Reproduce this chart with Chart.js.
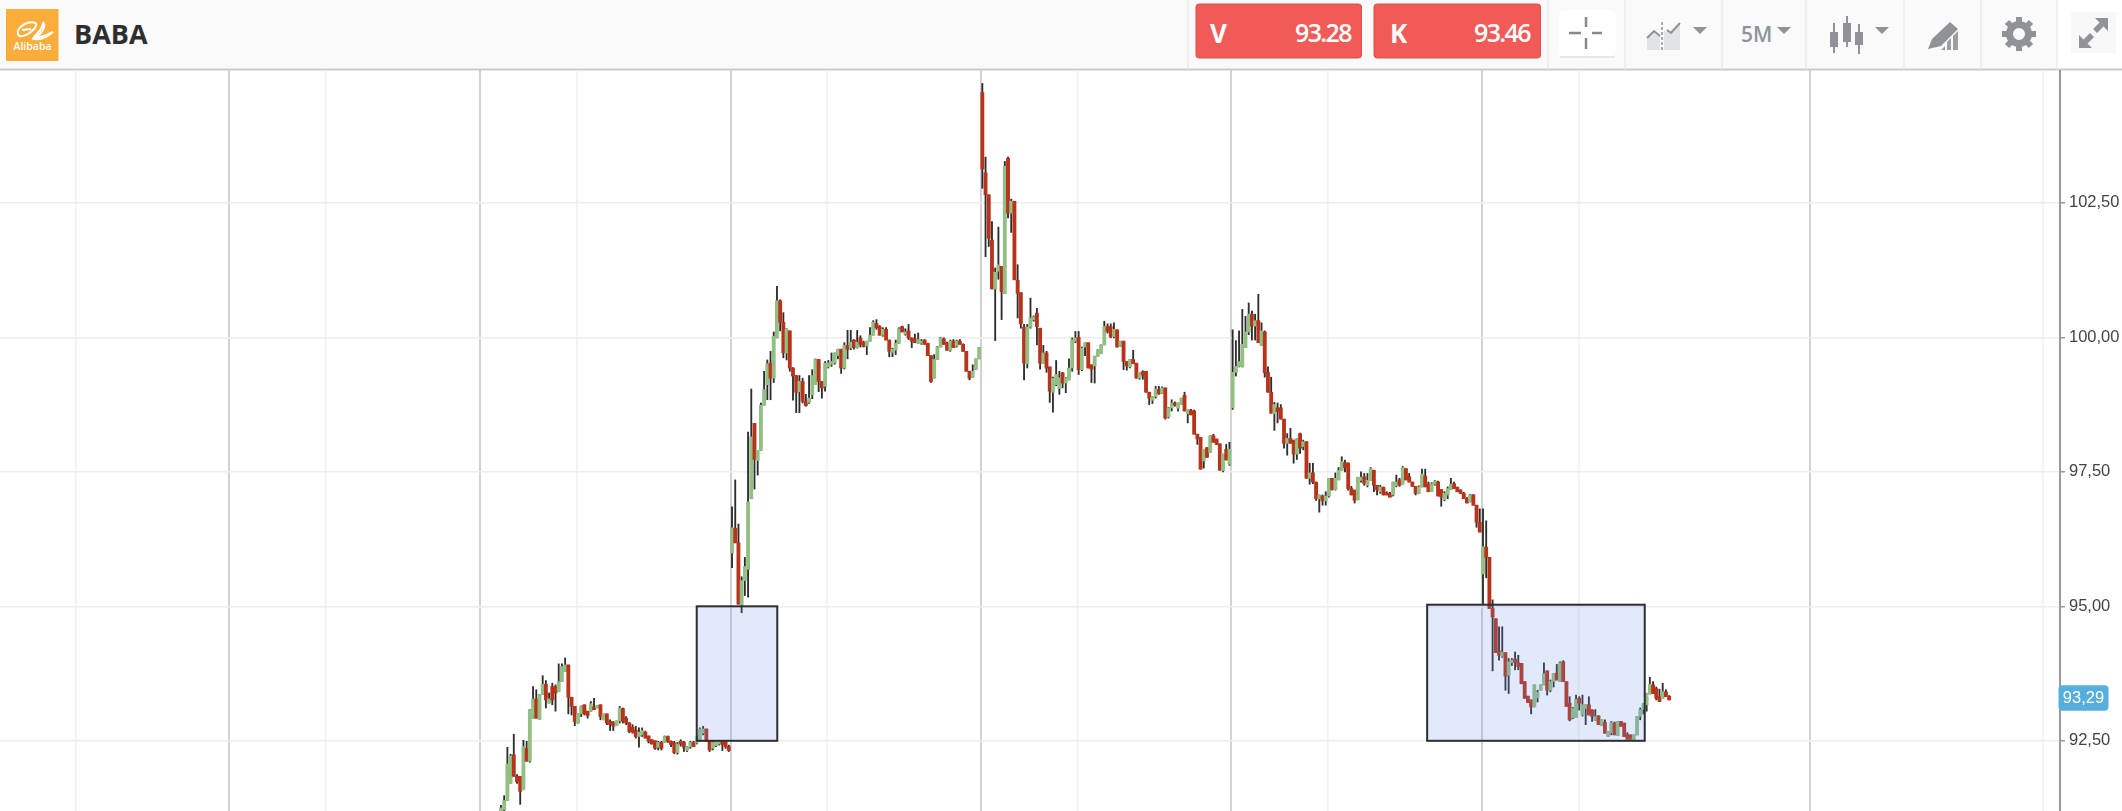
<!DOCTYPE html>
<html lang="en">
<head>
<meta charset="utf-8">
<title>BABA</title>
<script src="https://cdn.jsdelivr.net/npm/chart.js@4"></script>
<style>
    html, body { margin: 0; padding: 0; background: #fff; overflow: hidden; }
    #topbar { position: absolute; left: 0; top: 0; display: block; }
    #chartBaba { position: absolute; left: 0; top: 70px; display: block; }
    #topbar text { font-family: "Open Sans", sans-serif; }
</style>
</head>
<body>
<svg id="topbar" width="2122" height="71" viewBox="0 0 2122 71">
    <rect x="0" y="0" width="2057" height="69" fill="#fafafa"/>
    <rect x="0" y="68.5" width="2122" height="2" fill="#cbcbcb"/>

    <!-- logo -->
    <rect x="6" y="9" width="52.5" height="52" fill="#fbad3b"/>
    <path d="M19 36 C14 29 26 21 34 22.5 C38 23.5 36 27 33 30 C30 33 24 37 19 36 M22 30 L31 29 M43 22 C47 27 40 35 36 37 C42 38 48 34 53 32 C47 37 39 41 33 38.5 C37 33 44 28 43 22" fill="none" stroke="#fff" stroke-width="2"/>
    <text x="32.5" y="50" text-anchor="middle" font-size="10.5" font-weight="600" fill="#fff">Alibaba</text>
    <text x="74" y="44" font-size="27" font-weight="700" fill="#2e2e2e">BABA</text>

    <!-- dividers -->
    <g stroke="#e4e4e4" stroke-width="1">
        <line x1="1188" y1="0" x2="1188" y2="71"/><line x1="1548" y1="0" x2="1548" y2="71"/>
        <line x1="1625" y1="0" x2="1625" y2="71"/><line x1="1722" y1="0" x2="1722" y2="71"/>
        <line x1="1806" y1="0" x2="1806" y2="71"/><line x1="1904" y1="0" x2="1904" y2="71"/>
        <line x1="1981" y1="0" x2="1981" y2="71"/><line x1="2057" y1="0" x2="2057" y2="71"/>
    </g>

    <!-- V / K -->
    <rect x="1196" y="4" width="165.5" height="54" rx="3" fill="#f05b57" stroke="#dc4f4b"/>
    <rect x="1374" y="4" width="166.5" height="54" rx="3" fill="#f05b57" stroke="#dc4f4b"/>
    <text x="1210" y="43" font-size="26" font-weight="700" fill="#fff">V</text>
    <text x="1351" y="42" text-anchor="end" font-size="25" font-weight="600" letter-spacing="-1.6" fill="#fff">93.28</text>
    <text x="1390" y="43" font-size="26" font-weight="700" fill="#fff">K</text>
    <text x="1530" y="42" text-anchor="end" font-size="25" font-weight="600" letter-spacing="-1.6" fill="#fff">93.46</text>

    <!-- crosshair -->
    <rect x="1559" y="10" width="57" height="47" rx="6" fill="#fff"/>
    <path d="M1560 57 H1615" stroke="#e2e2e2" stroke-width="1.5"/>
    <g stroke="#85898e" stroke-width="2.5">
        <path d="M1569 33 H1581 M1592 33 H1602 M1586 17 V27 M1586 38 V49" fill="none"/>
    </g>

    <!-- chart type icon -->
    <path d="M1647 38 L1654 31 L1660 35 V50 H1647 Z M1664 31 L1670 31 L1680 23 V50 H1664 Z" fill="#e2e3e4"/>
    <path d="M1647 38 L1654 31 L1660 36 M1667 30 L1671 33 L1680 23" fill="none" stroke="#8f9398" stroke-width="2"/>
    <path d="M1662 22 V51" stroke="#8f9398" stroke-width="1.5" stroke-dasharray="3 2"/>
    <path d="M1693 27 H1707 L1700 34 Z M1777 27 H1791 L1784 34 Z M1875 27 H1889 L1882 34 Z" fill="#8f9398"/>

    <text x="1741" y="42" font-size="21" font-weight="600" fill="#8f9398">5M</text>

    <!-- candle icon -->
    <g fill="#8f9398">
        <rect x="1833" y="23" width="2" height="30"/><rect x="1830" y="32" width="8" height="15"/>
        <rect x="1846" y="16" width="2" height="31"/><rect x="1843" y="23" width="8" height="19"/>
        <rect x="1858" y="24" width="2" height="30"/><rect x="1855" y="32" width="8" height="13"/>
    </g>

    <!-- draw icon -->
    <path d="M1932 39 L1950 22 L1958 29 L1941 46 L1928 49 Z" fill="#8f9398"/>
    <path d="M1941 50 L1945 46 V50 Z M1947 50 V42 L1951 38 V50 Z M1953 50 V36 L1958 31 V50 Z" fill="#9b9ea3"/>

    <!-- gear -->
    <g transform="translate(2019 34)">
        <g stroke="#8f9398" stroke-width="6">
            <path d="M0 -17 V17 M-17 0 H17 M-12 -12 L12 12 M-12 12 L12 -12"/>
        </g>
        <circle r="9.5" fill="#fafafa" stroke="#8f9398" stroke-width="7"/>
    </g>

    <!-- expand -->
    <rect x="2071" y="12" width="45" height="41" fill="#f8f8f8"/>
    <path d="M2108 18 V31 L2103.5 26.5 L2097 33 L2093 29 L2099.5 22.5 L2095 18 Z M2079 48 V35 L2083.5 39.5 L2090 33 L2094 37 L2087.5 43.5 L2092 48 Z" fill="#8f9398"/>
</svg>
<canvas id="chartBaba" width="2122" height="741"></canvas>

<script>
// Fiyatlar (5 dk mumlar, 5 seans)
const opens = [
    91.20,91.22,91.39,91.71,92.24,91.84,91.84,91.59,92.36,92.12,
    92.92,93.28,92.90,93.36,93.55,93.20,93.51,93.51,93.42,93.60,
    93.79,93.91,93.31,93.14,92.83,93.00,93.17,93.05,93.05,93.13,
    93.11,93.17,92.89,93.00,92.86,92.84,92.78,92.87,93.10,92.92,
    92.83,92.75,92.70,92.58,92.61,92.66,92.59,92.52,92.50,92.38,
    92.47,92.47,92.58,92.49,92.46,92.28,92.49,92.47,92.32,92.39,
    92.47,92.46,92.49,92.64,92.72,92.49,92.36,92.41,92.44,92.49,
    92.49,92.39,
    95.99,96.45,96.18,95.03,95.48,95.69,97.00,98.40,97.71,97.90,
    98.74,99.12,99.52,99.24,99.99,100.68,100.28,99.71,100.12,99.43,
    99.29,98.99,99.18,98.81,98.79,98.93,99.12,99.59,99.18,99.09,
    99.45,99.50,99.52,99.66,99.78,99.43,99.85,99.80,99.95,99.81,
    99.99,99.91,99.84,99.93,100.04,100.26,100.20,100.04,100.15,99.95,
    99.72,99.76,99.89,100.20,100.06,100.12,99.99,99.97,99.89,99.89,
    99.95,99.89,99.66,99.24,99.59,99.82,99.97,99.89,99.76,99.93,
    99.84,99.93,99.87,99.74,99.37,99.26,99.40,99.60,
    104.55,103.06,102.65,101.81,100.90,101.23,101.32,100.81,103.33,102.31,
    102.53,101.06,100.83,100.19,99.51,100.19,100.33,100.45,100.17,99.52,
    99.71,99.45,98.98,99.12,99.05,99.34,99.15,99.21,99.43,99.93,
    100.00,99.40,99.82,99.90,99.49,99.47,99.65,99.70,99.86,100.20,
    100.20,100.01,100.14,99.83,99.93,99.55,99.45,99.59,99.52,99.24,
    99.36,99.37,98.98,98.83,98.90,99.03,98.96,99.06,98.52,98.69,
    98.78,98.68,98.75,98.92,98.58,98.64,98.63,98.20,98.14,97.70,
    97.95,97.86,98.17,98.11,98.02,97.52,97.92,97.64,
    98.69,99.35,99.46,99.45,99.81,100.10,100.43,100.21,100.31,99.85,
    100.10,99.35,98.98,98.58,98.69,98.69,98.48,98.03,98.12,98.09,
    97.83,98.21,97.97,98.06,97.38,97.48,97.31,97.00,97.05,96.96,
    97.05,97.38,97.17,97.35,97.53,97.67,97.66,97.19,97.16,96.98,
    97.34,97.41,97.25,97.34,97.53,97.25,97.13,97.21,97.11,97.10,
    97.07,97.24,97.35,97.27,97.56,97.41,97.31,97.23,97.10,97.22,
    97.42,97.28,97.13,97.27,97.31,97.17,96.98,97.07,97.17,97.28,
    97.21,97.16,97.10,97.00,96.94,97.07,96.88,96.56,
    95.60,96.10,95.91,94.96,94.77,94.17,94.07,94.14,93.72,93.95,
    94.02,93.95,93.94,93.60,93.33,93.26,93.13,93.30,93.44,93.54,
    93.80,93.44,93.60,93.76,93.60,93.97,93.60,93.20,92.93,92.93,
    93.29,92.98,93.10,93.17,93.07,92.88,92.96,92.78,92.84,92.58,
    92.65,92.83,92.60,92.86,92.83,92.61,92.61,92.53,92.61,92.95,
    93.08,93.17,93.37,93.54,93.47,93.32,93.29,93.41,93.33
];

const highs = [
    91.30,91.48,92.38,92.25,92.62,91.87,91.84,92.51,92.49,93.08,
    93.51,93.45,93.36,93.71,93.62,93.39,93.57,93.54,93.93,93.93,
    94.04,93.91,93.31,93.14,93.00,93.15,93.17,93.05,93.23,93.29,
    93.16,93.17,93.00,93.00,92.89,92.86,92.87,93.14,93.11,92.95,
    92.84,92.80,92.77,92.74,92.74,92.68,92.59,92.52,92.50,92.49,
    92.49,92.59,92.59,92.50,92.49,92.47,92.52,92.49,92.39,92.49,
    92.49,92.59,92.74,92.77,92.72,92.49,92.49,92.50,92.51,92.49,
    92.49,92.42,
    96.85,97.35,96.53,95.55,95.91,98.24,99.04,98.40,97.90,98.78,
    99.37,99.58,99.74,100.10,100.95,100.70,100.46,100.16,100.12,99.44,
    99.29,99.29,99.24,98.94,99.29,99.40,99.60,99.59,99.18,99.55,
    99.57,99.71,99.71,99.78,99.78,99.90,100.13,100.13,99.96,100.13,
    100.03,99.93,99.93,100.18,100.31,100.33,100.22,100.18,100.18,99.95,
    99.80,99.95,100.18,100.21,100.16,100.24,99.99,100.06,100.08,99.96,
    99.96,99.89,99.66,99.68,99.83,100.00,99.99,99.91,99.95,99.96,
    99.95,99.96,99.88,99.74,99.37,99.49,99.60,99.81,
    104.72,103.35,102.65,102.15,101.29,102.05,101.32,103.27,103.35,102.57,
    102.53,101.35,100.83,100.24,100.24,100.73,100.40,100.54,100.17,99.85,
    99.74,99.45,99.26,99.57,99.37,99.35,99.25,99.60,99.99,100.11,
    100.11,99.82,99.90,99.90,99.49,99.65,99.77,99.86,100.30,100.25,
    100.25,100.27,100.14,99.93,99.93,99.55,99.59,99.76,99.52,99.35,
    99.38,99.37,98.98,98.90,99.09,99.09,99.08,99.06,98.70,98.84,
    98.80,98.78,98.87,98.98,98.66,98.66,98.65,98.20,98.14,97.92,
    97.95,98.17,98.20,98.11,98.02,97.83,98.01,98.05,
    100.14,99.94,100.12,100.52,100.39,100.64,100.49,100.43,100.80,100.27,
    100.12,99.45,99.26,98.79,98.78,98.75,98.48,98.21,98.31,98.09,
    98.12,98.22,98.09,98.06,97.66,97.66,97.31,97.07,97.07,97.13,
    97.38,97.38,97.48,97.58,97.78,97.72,97.67,97.23,97.16,97.40,
    97.50,97.47,97.47,97.58,97.53,97.25,97.25,97.22,97.13,97.12,
    97.31,97.44,97.38,97.60,97.56,97.47,97.31,97.23,97.24,97.55,
    97.55,97.31,97.30,97.34,97.33,97.17,97.13,97.22,97.38,97.31,
    97.22,97.17,97.12,97.02,97.08,97.08,96.88,96.81,
    96.81,96.59,95.91,95.12,94.77,94.62,94.62,94.14,94.03,94.03,
    94.15,94.09,93.94,93.60,93.33,93.26,93.54,93.44,93.54,93.95,
    93.80,93.63,93.75,93.92,93.97,93.99,93.60,93.32,93.12,93.35,
    93.32,93.35,93.17,93.32,93.08,93.08,92.97,92.89,92.89,92.67,
    92.86,92.85,92.86,92.86,92.83,92.65,92.61,92.61,92.95,93.11,
    93.19,93.38,93.68,93.60,93.50,93.46,93.57,93.45,93.34
];

const lows = [
    91.10,91.19,91.39,91.71,91.84,91.71,91.32,91.59,92.12,92.10,
    92.92,92.92,92.90,93.36,93.11,93.20,93.17,93.05,93.42,93.60,
    93.79,93.00,92.98,92.78,92.83,92.95,92.98,92.92,93.05,93.08,
    93.11,92.89,92.89,92.80,92.69,92.69,92.78,92.83,92.83,92.80,
    92.65,92.64,92.55,92.38,92.58,92.55,92.46,92.44,92.34,92.33,
    92.33,92.47,92.47,92.39,92.26,92.25,92.40,92.30,92.30,92.36,
    92.39,92.44,92.49,92.61,92.49,92.30,92.33,92.39,92.42,92.32,
    92.36,92.30,
    95.72,96.18,95.04,94.88,95.20,95.17,97.00,97.18,97.44,97.90,
    98.74,98.84,98.84,99.16,99.99,100.12,99.62,99.58,99.37,98.83,
    98.60,98.60,98.78,98.72,98.77,98.86,99.12,98.99,98.87,99.00,
    99.43,99.46,99.50,99.60,99.33,99.41,99.60,99.77,99.78,99.80,
    99.82,99.82,99.68,99.93,100.04,100.15,100.04,100.02,99.95,99.64,
    99.64,99.68,99.89,100.10,100.04,99.96,99.81,99.90,99.89,99.87,
    99.87,99.66,99.16,99.24,99.59,99.82,99.87,99.76,99.74,99.81,
    99.82,99.87,99.74,99.37,99.21,99.26,99.40,99.60,
    102.77,101.50,101.69,100.90,99.94,101.08,100.33,100.81,102.22,101.95,
    101.07,100.36,100.17,99.21,99.43,100.17,100.30,99.86,99.41,99.52,
    99.35,98.79,98.61,99.10,98.94,99.06,98.97,99.21,99.37,99.90,
    99.31,99.38,99.66,99.43,99.16,99.15,99.65,99.70,99.86,100.08,
    99.99,99.99,99.82,99.83,99.40,99.39,99.43,99.51,99.24,99.22,
    99.22,98.98,98.75,98.77,98.87,98.94,98.96,98.48,98.50,98.63,
    98.72,98.63,98.75,98.63,98.41,98.56,98.20,98.01,97.55,97.57,
    97.77,97.86,98.05,98.01,97.53,97.50,97.72,97.62,
    98.66,99.28,99.45,99.45,99.81,100.05,99.95,99.95,99.90,99.85,
    99.26,98.98,98.59,98.27,98.41,98.48,97.94,97.81,98.03,97.66,
    97.73,97.84,97.91,97.38,97.27,97.28,96.97,96.75,96.88,96.88,
    97.03,97.16,97.16,97.35,97.53,97.50,97.16,97.07,96.92,96.98,
    97.31,97.25,97.22,97.34,97.13,97.07,97.10,97.07,97.07,97.03,
    97.05,97.22,97.23,97.27,97.35,97.31,97.23,97.07,97.10,97.22,
    97.22,97.13,97.13,97.25,97.05,96.86,96.96,97.00,97.17,97.19,
    97.13,97.10,97.00,96.92,96.94,96.88,96.47,96.38,
    95.04,95.53,94.96,93.80,94.14,94.00,94.05,93.44,93.38,93.90,
    93.82,93.82,93.56,93.29,93.21,93.00,93.13,93.22,93.44,93.54,
    93.35,93.41,93.50,93.63,93.60,93.60,93.14,92.87,92.91,92.93,
    93.07,92.96,92.80,92.98,92.86,92.88,92.80,92.78,92.64,92.58,
    92.61,92.61,92.60,92.77,92.58,92.53,92.53,92.53,92.61,92.89,
    93.00,93.05,93.37,93.38,93.26,93.23,93.29,93.32,93.26
];

const closes = [
    91.25,91.39,92.07,92.22,91.84,91.74,91.56,92.39,92.12,93.08,
    93.28,92.92,93.36,93.55,93.26,93.28,93.26,93.39,93.60,93.88,
    93.91,93.31,93.14,92.86,93.00,93.14,93.00,92.97,93.19,93.08,
    93.16,92.95,93.00,92.83,92.80,92.77,92.87,93.11,92.86,92.83,
    92.67,92.66,92.58,92.66,92.69,92.55,92.49,92.44,92.36,92.47,
    92.36,92.58,92.49,92.43,92.28,92.44,92.44,92.38,92.38,92.47,
    92.39,92.49,92.72,92.72,92.49,92.33,92.47,92.49,92.49,92.43,
    92.39,92.32,
    96.46,96.18,95.04,95.48,95.74,96.94,98.15,97.73,97.90,98.74,
    99.03,99.51,99.24,100.02,100.68,100.28,99.71,100.15,99.43,99.28,
    98.98,99.18,98.81,98.73,98.87,99.29,99.59,99.18,99.06,99.52,
    99.52,99.55,99.71,99.78,99.43,99.85,99.78,99.91,99.81,99.91,
    99.87,99.83,99.93,100.04,100.28,100.18,100.04,100.15,99.95,99.74,
    99.78,99.89,100.16,100.10,100.10,99.99,99.93,99.90,99.96,99.93,
    99.87,99.66,99.18,99.59,99.82,99.99,99.87,99.76,99.93,99.81,
    99.93,99.87,99.74,99.37,99.24,99.37,99.60,99.81,
    103.13,102.65,101.84,100.90,101.21,101.35,100.85,103.18,102.31,102.53,
    101.07,100.82,100.25,99.52,100.19,100.36,100.38,100.20,99.52,99.71,
    99.43,99.00,99.24,99.31,99.25,99.15,99.24,99.43,99.96,99.99,
    99.40,99.80,99.90,99.43,99.41,99.65,99.77,99.86,100.20,100.11,
    100.01,100.15,99.82,99.93,99.55,99.47,99.59,99.51,99.24,99.35,
    99.30,98.98,98.87,98.90,99.04,98.95,99.06,98.50,98.69,98.78,
    98.74,98.78,98.87,98.63,98.66,98.56,98.20,98.11,97.55,97.92,
    97.77,98.17,98.05,98.01,97.53,97.83,97.72,97.92,
    99.35,99.46,99.55,99.87,100.10,100.43,100.21,100.31,99.90,100.12,
    99.34,98.98,98.59,98.75,98.62,98.48,98.03,98.12,98.03,97.83,
    98.12,97.94,98.06,97.38,97.48,97.31,97.00,97.07,96.96,97.05,
    97.38,97.17,97.38,97.53,97.69,97.58,97.19,97.07,96.97,97.40,
    97.40,97.28,97.34,97.56,97.25,97.16,97.22,97.07,97.07,97.03,
    97.31,97.31,97.25,97.58,97.35,97.31,97.23,97.10,97.22,97.46,
    97.22,97.13,97.28,97.33,97.05,97.03,97.10,97.19,97.27,97.19,
    97.13,97.10,97.00,96.92,97.07,96.88,96.56,96.38,
    96.11,95.91,94.96,94.80,94.14,94.09,94.15,93.70,93.97,94.00,
    93.95,93.88,93.56,93.29,93.21,93.13,93.54,93.40,93.54,93.75,
    93.44,93.60,93.75,93.63,93.95,93.60,93.14,92.89,93.10,93.27,
    93.20,93.17,93.17,92.98,92.95,92.95,92.80,92.89,92.64,92.67,
    92.84,92.61,92.86,92.77,92.58,92.53,92.53,92.61,92.95,93.08,
    93.19,93.38,93.55,93.38,93.29,93.23,93.41,93.32,93.26
];

// Eksen degerleri: x mum numarasi, y fiyat
const priceTicks = [92.5, 95, 97.5, 100, 102.5];
const majorLines = [-84.8, -6.5, 71.7, 149.6, 227.5, 305.7, 407.9];
const minorLines = [-132.4, -54.5, 23.7, 101.6, 179.8, 257.7, 335.9, 480.5];
const xRange = [-156.1, 485.8];
const yRange = [91.195, 104.97];

// Isaretli kutular: mum araligi ve fiyat araligi
const boxFrom = [61.0, 288.6];
const boxTo = [86.1, 356.4];
const boxLow = [92.5, 92.5];
const boxHigh = [95.0, 95.03];

const lastPrice = 93.29;

const UP_COLOR = '#93bf85';
const DOWN_COLOR = '#b8331a';

const formatPrice = v => v.toFixed(2).replace('.', ',');
const isMajor = ctx => !!ctx.tick && majorLines.includes(ctx.tick.value);

// Kutular mumlarin ustune yari saydam biniyor
const boxPlugin = {
    id: 'boxes',
    afterDatasetsDraw(chart) {
        const { ctx, scales: { x, y } } = chart;
        ctx.save();
        boxFrom.forEach((from, i) => {
            const left = x.getPixelForValue(from);
            const right = x.getPixelForValue(boxTo[i]);
            const top = y.getPixelForValue(boxHigh[i]);
            const bottom = y.getPixelForValue(boxLow[i]);
            ctx.fillStyle = 'rgba(110,145,230,0.2)';
            ctx.fillRect(left, top, right - left, bottom - top);
            ctx.strokeStyle = '#2b2f33';
            ctx.lineWidth = 2;
            ctx.strokeRect(left, top, right - left, bottom - top);
        });
        ctx.restore();
    }
};

// Son fiyat etiketi
const lastPricePlugin = {
    id: 'lastPrice',
    afterDraw(chart) {
        const { ctx, scales: { y }, chartArea } = chart;
        const cy = y.getPixelForValue(lastPrice);
        ctx.save();
        ctx.fillStyle = '#55aedb';
        ctx.beginPath();
        ctx.roundRect(chartArea.right - 1.5, cy - 13, 50, 25.5, 4);
        ctx.fill();
        ctx.fillStyle = '#fff';
        ctx.font = '16.5px "Liberation Sans"';
        ctx.textAlign = 'center';
        ctx.textBaseline = 'middle';
        ctx.fillText(formatPrice(lastPrice), chartArea.right + 23.5, cy);
        ctx.restore();
    }
};

function renderChart() {
    const wicks = highs.map((h, i) => ({ x: i, y: [lows[i], h] }));
    const bodies = opens.map((o, i) => ({ x: i, y: [o, closes[i]] }));
    const bodyColors = opens.map((o, i) => (closes[i] >= o ? UP_COLOR : DOWN_COLOR));

    new Chart(document.getElementById('chartBaba'), {
        type: 'bar',
        data: {
            datasets: [
                { label: 'Govde', data: bodies, backgroundColor: bodyColors, barThickness: 3.2, order: 1, grouped: false },
                { label: 'Fitil', data: wicks, backgroundColor: '#2e2e2e', barThickness: 1.2, order: 2, grouped: false }
            ]
        },
        options: {
            responsive: false,
            animation: false,
            events: [],
            layout: { padding: 0 },
            plugins: { legend: { display: false }, tooltip: { enabled: false } },
            scales: {
                x: {
                    type: 'linear',
                    offset: false,
                    min: xRange[0],
                    max: xRange[1],
                    afterBuildTicks: scale => {
                        scale.ticks = [...minorLines, ...majorLines].sort((a, b) => a - b).map(value => ({ value }));
                    },
                    afterFit: scale => { scale.paddingLeft = 0; scale.paddingRight = 0; },
                    ticks: { display: false },
                    border: { display: false },
                    grid: {
                        offset: false,
                        drawTicks: false,
                        color: ctx => (isMajor(ctx) ? '#d2d2d2' : '#f0f0f0'),
                        lineWidth: ctx => (isMajor(ctx) ? 2 : 1.5)
                    }
                },
                y: {
                    type: 'linear',
                    position: 'right',
                    min: yRange[0],
                    max: yRange[1],
                    afterBuildTicks: scale => {
                        scale.ticks = priceTicks.map(value => ({ value }));
                    },
                    afterFit: scale => {
                        scale.width = 62;
                        scale.paddingTop = 0;
                        scale.paddingBottom = 0;
                    },
                    ticks: {
                        color: '#444',
                        padding: 4,
                        font: { family: '"Liberation Sans"', size: 16.5 },
                        callback: v => formatPrice(v)
                    },
                    border: { color: '#9a9a9a', width: 2 },
                    grid: { color: '#eeeeee', lineWidth: 1.5, tickColor: '#999', tickLength: 5 }
                }
            }
        },
        plugins: [boxPlugin, lastPricePlugin]
    });
}

document.addEventListener('DOMContentLoaded', renderChart);
</script>
</body>
</html>
